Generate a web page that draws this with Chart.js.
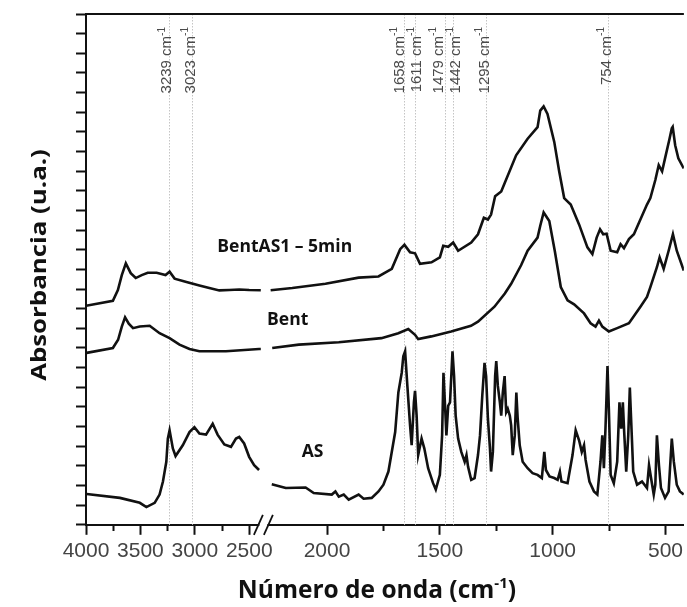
<!DOCTYPE html>
<html>
<head>
<meta charset="utf-8">
<script src="https://cdn.jsdelivr.net/npm/chart.js@4.4.1/dist/chart.umd.min.js"></script>
<style>
  html, body { margin: 0; padding: 0; background: #fff; }
  #wrap { width: 687px; height: 607px; position: relative; }
</style>
</head>
<body>
<div id="wrap"><canvas id="ftirChart"></canvas></div>
<script>
// Spectra (wavenumber in cm-1, absorbance in arbitrary units)
const bentAS1Wave = [4000, 3753, 3707, 3671, 3634, 3589, 3543, 3488, 3433, 3351, 3269, 3232, 3186, 3077, 2958, 2867, 2775, 2684, 2592, 2501, 2394,
  2250, 2154, 2007, 1860, 1772, 1713, 1676, 1657, 1632, 1610, 1588, 1537, 1500, 1485, 1463, 1441, 1419, 1361, 1331, 1305, 1287, 1273, 1255, 1228, 1213,
  1162, 1111, 1067, 1055, 1040, 1023, 993, 971, 949, 920, 883, 846, 824, 805, 790, 776, 761, 743, 714, 699, 684, 662, 640, 582, 567, 545, 530, 515,
  502, 482, 472, 468, 457, 443, 419];
const bentAS1Abs = [11.15, 11.40, 11.95, 12.71, 13.31, 12.81, 12.56, 12.71, 12.83, 12.83, 12.71, 12.88, 12.53, 12.36, 12.18, 12.05, 11.93, 11.95, 11.98, 11.95, 11.94,
  11.94, 12.05, 12.27, 12.58, 12.64, 13.03, 14.03, 14.25, 13.87, 13.82, 13.28, 13.36, 13.61, 14.20, 14.15, 14.37, 13.95, 14.37, 14.79, 15.63, 15.54, 15.79, 16.72, 16.97, 17.39,
  18.81, 19.65, 20.24, 21.08, 21.30, 20.91, 19.49, 17.98, 16.63, 16.30, 15.29, 14.12, 13.78, 14.62, 15.04, 14.79, 14.82, 13.95, 13.87, 14.28, 14.08, 14.54, 14.79, 16.30, 16.63, 17.55, 18.31, 17.99,
  18.65, 19.65, 20.19, 20.26, 19.32, 18.65, 18.14];

const bentWave = [3994, 3753, 3705, 3671, 3641, 3607, 3568, 3506, 3415, 3324, 3232, 3141, 3049, 2958, 2714, 2410, 2394,
  2243, 2125, 1948, 1759, 1684, 1640, 1610, 1596, 1538, 1450, 1362, 1331, 1258, 1212, 1184, 1140, 1111, 1067, 1055, 1040, 1015, 990, 964, 934,
  905, 861, 832, 810, 795, 780, 751, 714, 662, 611, 582, 567, 538, 526, 508, 486, 467, 450, 419];
const bentAbs = [8.75, 9.00, 9.42, 10.09, 10.56, 10.24, 10.01, 10.09, 10.13, 9.75, 9.50, 9.17, 8.95, 8.83, 8.83, 8.95, 8.95,
  9.00, 9.17, 9.29, 9.50, 9.75, 9.96, 9.67, 9.45, 9.59, 9.84, 10.13, 10.34, 11.10, 11.77, 12.27, 13.21, 13.95, 14.62, 15.22, 15.90, 15.46, 13.90, 12.10, 11.43,
  11.22, 10.76, 10.26, 10.09, 10.39, 10.09, 9.84, 10.01, 10.26, 11.10, 11.60, 12.10, 13.11, 13.61, 13.03, 13.95, 14.79, 13.95, 12.94];

const asWave = [3994, 3689, 3506, 3445, 3369, 3324, 3293, 3262, 3248, 3232, 3202, 3177, 3111, 3049, 3004, 2958, 2897, 2836, 2791, 2729, 2668, 2622, 2592, 2547, 2501, 2455, 2410,
  2245, 2183, 2095, 2059, 1979, 1963, 1948, 1926, 1904, 1860, 1838, 1802, 1772, 1750, 1728, 1698, 1684, 1669, 1662, 1654, 1644, 1632, 1625, 1615, 1610, 1603, 1596, 1581, 1569, 1552,
  1530, 1518, 1500, 1490, 1484, 1477, 1471, 1463, 1455, 1444, 1437, 1430, 1419, 1405, 1390, 1382, 1375, 1361, 1346, 1331, 1322, 1312, 1302, 1295, 1287, 1278, 1273, 1265, 1255, 1250,
  1243, 1234, 1228, 1221, 1213, 1206, 1199, 1190, 1184, 1177, 1168, 1161, 1155, 1146, 1133, 1111, 1089, 1067, 1048, 1037, 1030, 1014, 993, 978, 968, 961, 934, 912, 898, 883,
  871, 861, 854, 837, 817, 802, 788, 780, 773, 766, 757, 751, 743, 729, 714, 704, 696, 689, 683, 674, 665, 658, 650, 643, 626, 604, 582, 573, 564, 552,
  545, 538, 529, 520, 502, 486, 472, 463, 450, 436, 419];
const asAbs = [1.57, 1.37, 1.12, 0.90, 1.12, 1.54, 2.20, 3.21, 4.39, 4.81, 3.89, 3.50, 4.05, 4.72, 4.97, 4.64, 4.59, 5.14, 4.59, 4.09, 3.97, 4.39, 4.47, 4.14, 3.46, 3.04, 2.79,
  2.07, 1.87, 1.90, 1.62, 1.54, 1.70, 1.43, 1.54, 1.28, 1.54, 1.33, 1.37, 1.70, 2.04, 2.71, 4.72, 6.73, 7.74, 8.58, 8.83, 7.07, 5.06, 4.05, 6.23, 6.82, 5.56, 3.55, 4.39, 3.89, 2.88,
  2.12, 1.79, 2.54, 4.55, 7.74, 6.06, 4.55, 6.06, 6.23, 8.83, 7.57, 5.56, 4.39, 3.71, 3.21, 3.55, 2.96, 2.29, 2.38, 3.55, 4.55, 6.57, 8.24, 7.57, 5.40, 3.89, 2.71, 3.71, 7.57, 8.33,
  7.07, 6.23, 5.56, 6.73, 7.57, 5.73, 5.90, 5.56, 5.06, 3.55, 4.55, 6.73, 5.40, 4.05, 3.21, 2.88, 2.63, 2.54, 2.38, 3.71, 2.79, 2.46, 2.38, 2.29, 2.71, 2.20, 2.12, 3.55, 4.81, 4.30,
  3.71, 4.05, 3.30, 2.20, 1.70, 1.54, 3.21, 4.55, 2.88, 4.89, 8.08, 5.90, 2.54, 2.12, 3.21, 6.23, 4.89, 6.23, 4.72, 2.71, 4.55, 6.99, 4.72, 2.71, 2.04, 2.20, 1.87, 3.04, 2.38, 1.54,
  2.04, 4.55, 3.04, 1.87, 1.37, 1.70, 4.39, 3.21, 2.04, 1.70, 1.54];

// Marked bands and axis ticks
const peakWaves = [3239, 3023, 1658, 1611, 1479, 1442, 1295, 754];
const xTickWaves = [4000, 3750, 3500, 3250, 3000, 2750, 2500, 2000, 1750, 1500, 1250, 1000, 750, 500];

// Curve names, anchored at (wavenumber, absorbance)
const curveNames = ['BentAS1 \u2013 5min', 'Bent', 'AS'];
const curveNameWave = [2793, 2266, 2112];
const curveNameAbs = [13.87, 10.18, 3.45];

// Broken x axis: 4000-2400 is compressed, below 2250 is stretched
const LEFT_SCALE = 0.1094;
const RIGHT_SCALE = 0.2268;
const RIGHT_ORIGIN = 242.3; // axis position of 2000 cm-1
const BREAK_AT = 2320;
const AXIS_MAX = 601;
function toAxis(w) {
  return w > BREAK_AT ? (4000 - w) * LEFT_SCALE : RIGHT_ORIGIN + (2000 - w) * RIGHT_SCALE;
}

function buildPoints(waves, abs) {
  const pts = [];
  waves.forEach((w, i) => {
    if (i > 0 && waves[i - 1] > BREAK_AT && w <= BREAK_AT) {
      pts.push({ x: (toAxis(waves[i - 1]) + toAxis(w)) / 2, y: null });
    }
    pts.push({ x: toAxis(w), y: abs[i] });
  });
  return pts;
}

const ink = '#111';
const labelFont = "'Open Sans', 'Noto Sans', sans-serif";

const decorations = {
  id: 'decorations',
  beforeDatasetsDraw(chart) {
    const { ctx, chartArea, scales: { x } } = chart;
    ctx.save();
    ctx.strokeStyle = '#c4c4c4';
    ctx.lineWidth = 1;
    ctx.setLineDash([1.5, 1.5]);
    peakWaves.forEach(w => {
      const px = Math.round(x.getPixelForValue(toAxis(w))) + 0.5;
      ctx.beginPath();
      ctx.moveTo(px, chartArea.top);
      ctx.lineTo(px, chartArea.bottom);
      ctx.stroke();
    });
    ctx.restore();
  },
  afterDraw(chart) {
    const { ctx, chartArea, scales: { x, y } } = chart;
    ctx.save();

    // top frame line
    ctx.strokeStyle = ink;
    ctx.lineWidth = 2;
    ctx.beginPath();
    ctx.moveTo(chartArea.left - 1, chartArea.top);
    ctx.lineTo(chartArea.right, chartArea.top);
    ctx.stroke();

    // axis break marks
    const bx = (x.getPixelForValue(toAxis(2400)) + x.getPixelForValue(toAxis(2250))) / 2 - 2;
    const by = chartArea.bottom;
    ctx.fillStyle = '#fff';
    ctx.fillRect(bx - 4, by - 2, 8, 4);
    ctx.lineWidth = 1.8;
    [-5, 5].forEach(dx => {
      ctx.beginPath();
      ctx.moveTo(bx + dx - 4.5, by + 10);
      ctx.lineTo(bx + dx + 4.5, by - 10);
      ctx.stroke();
    });

    // band labels, rotated, pushed apart when crowded
    const centers = peakWaves.map(w => x.getPixelForValue(toAxis(w)) - 3);
    for (let pass = 0; pass < 8; pass++) {
      for (let i = 1; i < centers.length; i++) {
        const gap = centers[i] - centers[i - 1];
        if (gap < 17) {
          const d = (17 - gap) / 2;
          centers[i - 1] -= d;
          centers[i] += d;
        }
      }
    }
    ctx.fillStyle = '#4a4a4a';
    peakWaves.forEach((w, i) => {
      ctx.save();
      ctx.translate(centers[i] + 5.5, 27);
      ctx.rotate(-Math.PI / 2);
      ctx.textAlign = 'right';
      ctx.textBaseline = 'alphabetic';
      ctx.font = "10px 'Liberation Sans', Arial, sans-serif";
      const sup = '-1';
      const supW = ctx.measureText(sup).width;
      ctx.fillText(sup, 0, -6.5);
      ctx.font = "15px 'Liberation Sans', Arial, sans-serif";
      ctx.fillText(w + ' cm', -supW, 0);
      ctx.restore();
    });

    // curve names
    ctx.fillStyle = ink;
    ctx.font = 'bold 17.5px ' + labelFont;
    ctx.textAlign = 'left';
    ctx.textBaseline = 'alphabetic';
    curveNames.forEach((name, i) => {
      ctx.fillText(name, x.getPixelForValue(toAxis(curveNameWave[i])), y.getPixelForValue(curveNameAbs[i]));
    });

    // x axis title with superscript
    const main = 'N\u00famero de onda (cm';
    const sup = '-1';
    const close = ')';
    ctx.font = 'bold 24.5px ' + labelFont;
    const wMain = ctx.measureText(main).width;
    const wClose = ctx.measureText(close).width;
    ctx.font = 'bold 15px ' + labelFont;
    const wSup = ctx.measureText(sup).width;
    let tx = (chartArea.left + chartArea.right) / 2 - 8 - (wMain + wSup + wClose) / 2;
    const ty = 598;
    ctx.font = 'bold 24.5px ' + labelFont;
    ctx.fillText(main, tx, ty);
    tx += wMain;
    ctx.font = 'bold 15px ' + labelFont;
    ctx.fillText(sup, tx, ty - 10);
    tx += wSup;
    ctx.font = 'bold 24.5px ' + labelFont;
    ctx.fillText(close, tx, ty);

    // y axis title
    ctx.save();
    ctx.translate(46, 265);
    ctx.rotate(-Math.PI / 2);
    ctx.scale(1.2, 1);
    ctx.textAlign = 'center';
    ctx.font = 'bold 21.5px ' + labelFont;
    ctx.fillText('Absorbancia (u.a.)', 0, 0);
    ctx.restore();

    ctx.restore();
  }
};

const series = [
  { label: 'BentAS1 \u2013 5min', data: buildPoints(bentAS1Wave, bentAS1Abs) },
  { label: 'Bent', data: buildPoints(bentWave, bentAbs) },
  { label: 'AS', data: buildPoints(asWave, asAbs) }
];

const ftirChart = document.getElementById('ftirChart');
if (ftirChart) {
  new Chart(ftirChart, {
    type: 'line',
    data: {
      datasets: series.map(s => ({
        label: s.label,
        data: s.data,
        borderColor: ink,
        borderWidth: 2.6,
        pointRadius: 0,
        tension: 0,
        spanGaps: false,
        fill: false
      }))
    },
    options: {
      responsive: true,
      maintainAspectRatio: false,
      animation: false,
      layout: {
        padding: { left: 76, right: 0, top: 14, bottom: 39 }
      },
      plugins: {
        legend: { display: false },
        tooltip: { enabled: false }
      },
      scales: {
        x: {
          type: 'linear',
          min: 0,
          max: AXIS_MAX,
          afterBuildTicks: scale => {
            scale.ticks = xTickWaves.map(w => ({ value: toAxis(w) }));
          },
          ticks: {
            autoSkip: false,
            maxRotation: 0,
            padding: 4,
            color: '#444',
            font: { family: "'Liberation Sans', Arial, sans-serif", size: 21 },
            callback: (value, index) => (xTickWaves[index] % 500 === 0 ? String(xTickWaves[index]) : '')
          },
          grid: {
            drawOnChartArea: false,
            tickLength: 10,
            tickWidth: 2,
            tickColor: ink,
            tickBorderDash: ctx => (xTickWaves[ctx.index] % 500 === 0 ? [] : [5, 40])
          },
          border: { color: ink, width: 2 }
        },
        y: {
          min: 0,
          max: 26,
          ticks: { stepSize: 1, display: false },
          grid: {
            drawOnChartArea: false,
            tickLength: 10,
            tickWidth: 2,
            tickColor: ink
          },
          border: { color: ink, width: 2 }
        }
      }
    },
    plugins: [decorations]
  });
}
</script>
</body>
</html>
